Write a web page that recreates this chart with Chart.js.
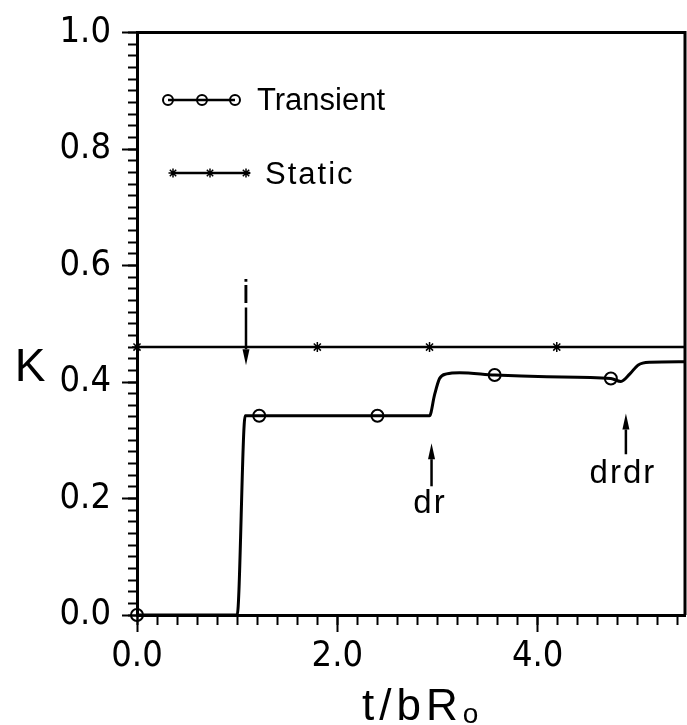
<!DOCTYPE html>
<html>
<head>
<meta charset="utf-8">
<script src="https://cdn.jsdelivr.net/npm/chart.js@4.4.1/dist/chart.umd.min.js"></script>
<style>
  html, body { margin: 0; padding: 0; background: #fff; }
  #wrap { width: 687px; height: 725px; position: relative; }
</style>
</head>
<body>
<div id="wrap"><canvas id="kChart"></canvas></div>
<script>
// ------------------------------------------------------------
// Values (t/bRo on x, K on y)
// ------------------------------------------------------------
const transientT = [0, 1.0, 1.08, 2.92, 2.97, 3.02, 3.09, 3.22, 3.57, 4.09, 4.73, 4.83, 4.92, 5.00, 5.12, 5.47];
const transientK = [0, 0, 0.342, 0.342, 0.378, 0.406, 0.414, 0.416, 0.412, 0.409, 0.406, 0.401, 0.414, 0.429, 0.434, 0.435];
const transientMarkT = [0, 1.22, 2.40, 3.57, 4.73];
const transientMarkK = [0, 0.342, 0.342, 0.412, 0.406];

const staticT = [0, 5.47];
const staticK = [0.46, 0.46];
const staticMarkT = [0, 1.80, 2.92, 4.19];
const staticMarkK = [0.46, 0.46, 0.46, 0.46];

const xMajorTicks = [0, 2, 4];
const yMajorTicks = [0, 0.2, 0.4, 0.6, 0.8, 1.0];
const xMax = 5.47;

// arrows with their labels (data coordinates)
const noteLabels = ['i', 'dr', 'drdr'];
const noteArrowT = [1.088, 2.94, 4.88];
const noteArrowFromK = [0.528, 0.221, 0.276];
const noteArrowToK = [0.429, 0.295, 0.346];
const noteLabelT = [1.088, 2.925, 4.85];
const noteLabelK = [0.552, 0.190, 0.243];

const ink = '#000';
const tickFont = "'Liberation Sans Narrow', 'DejaVu Sans Condensed', 'Liberation Sans', sans-serif";
const textFont = "'Liberation Sans', Arial, sans-serif";

const toPoints = (xs, ys) => xs.map((x, i) => ({ x: x, y: ys[i] }));

// ------------------------------------------------------------
// small drawing helpers for legend / notes
// ------------------------------------------------------------
function drawCircle(ctx, x, y, r) {
  ctx.beginPath();
  ctx.arc(x, y, r, 0, Math.PI * 2);
  ctx.stroke();
}

function drawStar(ctx, x, y, r) {
  ctx.beginPath();
  ctx.moveTo(x - r, y); ctx.lineTo(x + r, y);
  ctx.moveTo(x, y - r); ctx.lineTo(x, y + r);
  const d = r * 0.7071;
  ctx.moveTo(x - d, y - d); ctx.lineTo(x + d, y + d);
  ctx.moveTo(x - d, y + d); ctx.lineTo(x + d, y - d);
  ctx.stroke();
}

function drawArrow(ctx, x, yFrom, yTo) {
  const head = 16;
  const dir = yTo > yFrom ? 1 : -1;
  ctx.beginPath();
  ctx.moveTo(x, yFrom);
  ctx.lineTo(x, yTo - dir * head);
  ctx.stroke();
  ctx.beginPath();
  ctx.moveTo(x, yTo);
  ctx.lineTo(x - 3.5, yTo - dir * head);
  ctx.lineTo(x + 3.5, yTo - dir * head);
  ctx.closePath();
  ctx.fill();
}

const decorations = {
  id: 'decorations',
  beforeDraw(chart) {
    const ctx = chart.ctx;
    ctx.save();
    ctx.fillStyle = '#fff';
    ctx.fillRect(0, 0, chart.width, chart.height);
    ctx.restore();
  },
  afterDraw(chart) {
    const ctx = chart.ctx;
    const area = chart.chartArea;
    const xs = chart.scales.x;
    const ys = chart.scales.y;

    ctx.save();
    ctx.strokeStyle = ink;
    ctx.fillStyle = ink;

    // top and right frame
    ctx.lineWidth = 3;
    ctx.beginPath();
    ctx.moveTo(area.left, area.top);
    ctx.lineTo(area.right, area.top);
    ctx.lineTo(area.right, area.bottom);
    ctx.stroke();

    // legend
    ctx.lineWidth = 2.5;
    ctx.beginPath();
    ctx.moveTo(168, 100); ctx.lineTo(235, 100);
    ctx.moveTo(173, 173); ctx.lineTo(250, 173);
    ctx.stroke();
    ctx.lineWidth = 2;
    [168, 202, 235].forEach((px) => drawCircle(ctx, px, 100, 5));
    ctx.lineWidth = 1.5;
    [173, 210, 246].forEach((px) => drawStar(ctx, px, 173, 4.5));

    ctx.font = '31px ' + textFont;
    ctx.textAlign = 'left';
    ctx.textBaseline = 'alphabetic';
    ctx.fillText('Transient', 257, 110);
    ctx.letterSpacing = '2px';
    ctx.fillText('Static', 265, 184);

    // arrows and their labels
    ctx.lineWidth = 2.5;
    noteLabels.forEach((label, i) => {
      const ax = xs.getPixelForValue(noteArrowT[i]);
      drawArrow(ctx, ax, ys.getPixelForValue(noteArrowFromK[i]), ys.getPixelForValue(noteArrowToK[i]));
      ctx.font = '33px ' + textFont;
      ctx.letterSpacing = label === 'i' ? '0px' : '2px';
      ctx.textAlign = 'center';
      ctx.textBaseline = 'middle';
      ctx.fillText(label, xs.getPixelForValue(noteLabelT[i]), ys.getPixelForValue(noteLabelK[i]));
    });

    // axis titles
    ctx.letterSpacing = '0px';
    ctx.font = '46px ' + textFont;
    ctx.textAlign = 'center';
    ctx.textBaseline = 'middle';
    ctx.fillText('K', 30, 368);

    ctx.textAlign = 'left';
    ctx.textBaseline = 'alphabetic';
    ctx.font = '44px ' + textFont;
    ctx.letterSpacing = '5px';
    const main = 't/bR';
    ctx.fillText(main, 362, 720);
    const w = ctx.measureText(main).width;
    ctx.letterSpacing = '0px';
    ctx.font = '28px ' + textFont;
    ctx.fillText('o', 362 + w, 723);

    ctx.restore();
  }
};

const chart = new Chart(document.getElementById('kChart'), {
  type: 'scatter',
  data: {
    datasets: [
      {
        data: toPoints(staticT, staticK),
        showLine: true,
        borderColor: ink,
        borderWidth: 2.5,
        pointRadius: 0,
        xAxisID: 'x', yAxisID: 'y'
      },
      {
        data: toPoints(staticMarkT, staticMarkK),
        showLine: false,
        pointStyle: 'star',
        pointRadius: 5,
        borderColor: ink,
        borderWidth: 1.5,
        clip: false,
        xAxisID: 'x', yAxisID: 'y'
      },
      {
        data: toPoints(transientT, transientK),
        showLine: true,
        borderColor: ink,
        borderWidth: 3,
        cubicInterpolationMode: 'monotone',
        pointRadius: 0,
        xAxisID: 'x', yAxisID: 'y'
      },
      {
        data: toPoints(transientMarkT, transientMarkK),
        showLine: false,
        pointStyle: 'circle',
        pointRadius: 6,
        borderColor: ink,
        backgroundColor: 'rgba(0,0,0,0)',
        borderWidth: 2,
        clip: false,
        xAxisID: 'x', yAxisID: 'y'
      }
    ]
  },
  options: {
    responsive: true,
    maintainAspectRatio: false,
    animation: false,
    events: [],
    layout: { autoPadding: false, padding: { top: 28, right: 2, left: 0, bottom: 0 } },
    plugins: { legend: { display: false }, tooltip: { enabled: false } },
    scales: {
      x: {
        type: 'linear',
        position: 'bottom',
        min: 0,
        max: xMax,
        afterBuildTicks: (scale) => { scale.ticks = xMajorTicks.map((v) => ({ value: v })); },
        afterFit: (scale) => { scale.height = 110; },
        ticks: {
          color: ink,
          font: { family: tickFont, size: 36 },
          padding: 3,
          autoSkip: false,
          maxRotation: 0,
          callback: (v) => Number(v).toFixed(1)
        },
        grid: { drawOnChartArea: false, tickLength: 17, tickWidth: 2, tickColor: ink },
        border: { display: true, color: ink, width: 3 }
      },
      y: {
        type: 'linear',
        position: 'left',
        min: 0,
        max: 1,
        afterBuildTicks: (scale) => { scale.ticks = yMajorTicks.map((v) => ({ value: v })); },
        afterFit: (scale) => { scale.width = 137; },
        ticks: {
          color: ink,
          font: { family: tickFont, size: 36 },
          padding: 11,
          autoSkip: false,
          callback: (v) => Number(v).toFixed(1)
        },
        grid: { drawOnChartArea: false, tickLength: 15, tickWidth: 2, tickColor: ink },
        border: { display: true, color: ink, width: 3 }
      },
      xMinor: {
        type: 'linear',
        axis: 'x',
        position: { y: 0 },
        min: 0,
        max: xMax,
        ticks: { display: false, stepSize: 0.2, includeBounds: false },
        grid: { drawOnChartArea: false, tickLength: 10, tickWidth: 2, tickColor: ink },
        border: { display: false }
      },
      yMinor: {
        type: 'linear',
        axis: 'y',
        position: { x: 0 },
        min: 0,
        max: 1,
        ticks: { display: false, stepSize: 0.02, includeBounds: false },
        grid: { drawOnChartArea: false, tickLength: 9, tickWidth: 2, tickColor: ink },
        border: { display: false }
      }
    }
  },
  plugins: [decorations]
});
</script>
</body>
</html>
